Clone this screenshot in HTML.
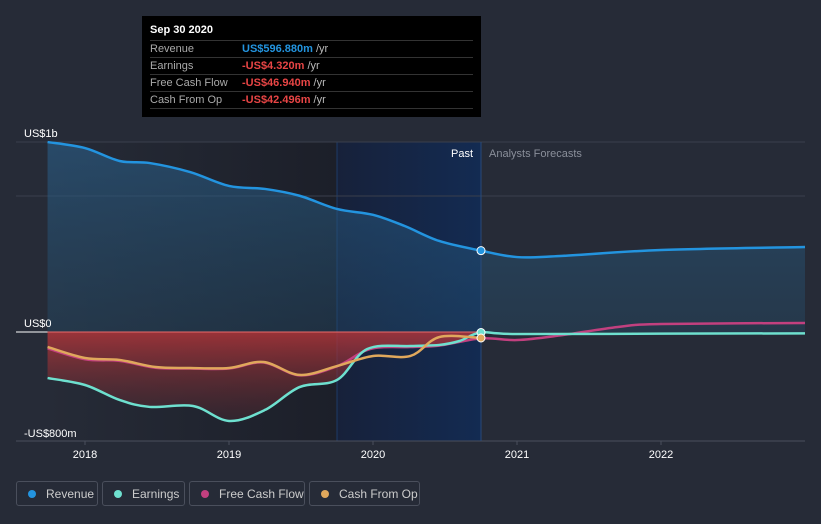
<!DOCTYPE html>
<html><head><meta charset="utf-8">
<style>
body{margin:0;background:#262b37;font-family:"Liberation Sans",sans-serif;}
#wrap{position:relative;width:821px;height:524px;overflow:hidden;background:#262b37;}
svg{position:absolute;left:0;top:0;}
.tt{position:absolute;left:142px;top:16px;width:339px;height:101px;background:#000;font-size:11px;color:#aaa;}
.tt .h{position:absolute;left:8px;top:8px;color:#fff;font-weight:bold;font-size:11px;}
.tt .r{position:absolute;left:8px;width:323px;height:16px;border-top:1px solid #333;line-height:16px;}
.tt .r span{position:absolute;left:92px;font-weight:bold;}
.tt .r i{font-style:normal;color:#bbb;font-weight:normal;}
.leg{position:absolute;top:481px;height:25px;border:1px solid #4a4f5c;border-radius:3px;color:#ccc;font-size:12px;line-height:25px;box-sizing:border-box;}
.leg b{display:inline-block;width:8px;height:8px;border-radius:50%;margin:0 10px 0 11px;vertical-align:0px;}
</style></head><body>
<div id="wrap">
<svg id="chart" width="821" height="524"></svg>
<div class="tt">
<div class="h">Sep 30 2020</div>
<div class="r" style="top:24px">Revenue<span style="color:#2394df">US$596.880m <i>/yr</i></span></div>
<div class="r" style="top:41px">Earnings<span style="color:#e84545">-US$4.320m <i>/yr</i></span></div>
<div class="r" style="top:58px">Free Cash Flow<span style="color:#e84545">-US$46.940m <i>/yr</i></span></div>
<div class="r" style="top:75px;border-bottom:1px solid #333">Cash From Op<span style="color:#e84545">-US$42.496m <i>/yr</i></span></div>
</div>
<div class="leg" style="left:16px;width:82px"><b style="background:#2394df"></b>Revenue</div>
<div class="leg" style="left:102px;width:83px"><b style="background:#6ee0cf"></b>Earnings</div>
<div class="leg" style="left:189px;width:116px"><b style="background:#c2407f"></b>Free Cash Flow</div>
<div class="leg" style="left:309px;width:111px"><b style="background:#e0a85c"></b>Cash From Op</div>
</div>
<script>
const revYears=[2017.74,2018,2018.24,2018.45,2018.73,2019,2019.25,2019.49,2019.75,2020,2020.22,2020.46,2020.75,2021,2021.3,2022,2023];
const revVals=[1394,1350,1255,1240,1174,1072,1050,1000,903,860,778,668,597,550,558,602,624];
const earnYears=[2017.74,2018,2018.24,2018.45,2018.75,2019,2019.25,2019.49,2019.75,2019.96,2020.26,2020.46,2020.6,2020.75,2021,2022,2023];
const earnVals=[-338,-389,-499,-550,-543,-653,-572,-404,-352,-125,-103,-95,-66,-4,-15,-12,-10];
const cfoYears=[2017.74,2018,2018.24,2018.49,2018.73,2019,2019.24,2019.49,2019.75,2020,2020.26,2020.46,2020.75];
const cfoVals=[-110,-191,-205,-257,-264,-264,-220,-315,-250,-176,-176,-37,-44];
const fcfYears=[2017.74,2018,2018.24,2018.49,2018.73,2019,2019.24,2019.49,2019.75,2019.98,2020.26,2020.46,2020.75,2021,2021.3,2021.7,2022,2023];
const fcfVals=[-120,-200,-212,-262,-268,-268,-224,-318,-252,-125,-110,-100,-47,-59,-25,37,59,66];
const yearTicks=[2018,2019,2020,2021,2022];
const yLabels=["US$1b","US$0","-US$800m"];
const yLabelVals=[1394,0,-800];

const X=y=>85+(y-2018)*144;
const Y=v=>332-v*0.13625;
const NS="http://www.w3.org/2000/svg";
const svg=document.getElementById('chart');
function mk(t,a,p){const e=document.createElementNS(NS,t);for(const k in a)e.setAttribute(k,a[k]);(p||svg).appendChild(e);return e;}
function path(xs,vs){const p=xs.map((x,i)=>[X(x),Y(vs[i])]);let d="M"+p[0][0]+","+p[0][1];
 for(let i=1;i<p.length;i++){const a=p[Math.max(0,i-2)],b=p[i-1],c=p[i],e=p[Math.min(p.length-1,i+1)];
 const t=1/6;const c1=[b[0]+(c[0]-a[0])*t,b[1]+(c[1]-a[1])*t],c2=[c[0]-(e[0]-b[0])*t,c[1]-(e[1]-b[1])*t];
 d+=`C${c1[0]},${c1[1]} ${c2[0]},${c2[1]} ${c[0]},${c[1]}`;}return d;}
const defs=mk('defs',{});
defs.innerHTML=`<linearGradient id="pastbg" x1="0" x2="1"><stop offset="0" stop-color="#262b37"/><stop offset="1" stop-color="#1c1f29"/></linearGradient>
<linearGradient id="hl" x1="0" x2="1"><stop offset="0" stop-color="#17213a"/><stop offset="1" stop-color="#132b52"/></linearGradient>
<linearGradient id="revfill" x1="0" y1="0" x2="0" y2="1"><stop offset="0" stop-color="#2a5f8a" stop-opacity="0.6"/><stop offset="1" stop-color="#24506f" stop-opacity="0.35"/></linearGradient>
<linearGradient id="negfill" x1="0" y1="0" x2="0" y2="1"><stop offset="0" stop-color="#b8363a" stop-opacity="0.8"/><stop offset="1" stop-color="#5a2a30" stop-opacity="0.3"/></linearGradient>`;
const x0=X(2017.74),xp=X(2020.75),xe=X(2023);
let g=mk('rect',{x:x0,y:142,width:X(2019.75)-x0,height:299,fill:'url(#pastbg)'});

g=mk('rect',{x:X(2019.75),y:142,width:xp-X(2019.75),height:299,fill:'url(#hl)'});

mk('line',{x1:X(2019.75),x2:X(2019.75),y1:142,y2:441,stroke:'#1e3a66','stroke-width':1});
[142,196].forEach(y=>mk('line',{x1:16,x2:805,y1:y,y2:y,stroke:'#3a3f4c','stroke-width':1}));
mk('line',{x1:16,x2:805,y1:441,y2:441,stroke:'#4a4f5c','stroke-width':1});
let rd=path(revYears,revVals);
g=mk('path',{d:rd+`L${xe},${Y(0)}L${x0},${Y(0)}Z`,fill:'url(#revfill)'});

g=mk('path',{d:path(earnYears.slice(0,14),earnVals.slice(0,14))+`L${xp},${Y(0)}L${x0},${Y(0)}Z`,fill:'url(#negfill)'});

mk('line',{x1:16,x2:x0,y1:332,y2:332,stroke:'#fff','stroke-width':1});
mk('line',{x1:x0,x2:xp,y1:332,y2:332,stroke:'#e86a6a','stroke-width':1});
mk('line',{x1:xp,x2:xp,y1:142,y2:441,stroke:'#284a7a','stroke-width':1});
function line(xs,vs,c,n){const e=mk('path',{d:path(xs,vs),fill:'none',stroke:c,'stroke-width':2.5});}
line(fcfYears,fcfVals,'#c2407f','free-cash-flow-line');
line(earnYears,earnVals,'#6ee0cf','earnings-line');
line(cfoYears,cfoVals,'#e0a85c','cash-from-op-line');
line(revYears,revVals,'#2394df','revenue-line');
[[revVals[12],'#2394df','revenue-dot'],[earnVals[13],'#6ee0cf','earnings-dot'],[cfoVals[12],'#e0a85c','cfo-dot']].forEach(a=>{
 const e=mk('circle',{cx:xp,cy:Y(a[0]),r:4,fill:a[1],stroke:'#fff','stroke-width':1});});
yLabels.forEach((t,i)=>{const e=mk('text',{x:24,y:Y(yLabelVals[i])-5+(i==2?1:0),fill:'#fff','font-size':11});e.textContent=t;
 });
yearTicks.forEach(yr=>{mk('line',{x1:X(yr),x2:X(yr),y1:441,y2:445,stroke:'#4a4f5c'});
 const e=mk('text',{x:X(yr),y:458,fill:'#fff','font-size':11,'text-anchor':'middle'});e.textContent=yr;
 });
let t=mk('text',{x:473,y:157,fill:'#fff','font-size':11,'text-anchor':'end'});t.textContent='Past';

t=mk('text',{x:489,y:157,fill:'#8a8f9a','font-size':11});t.textContent='Analysts Forecasts';

</script>
</body></html>
